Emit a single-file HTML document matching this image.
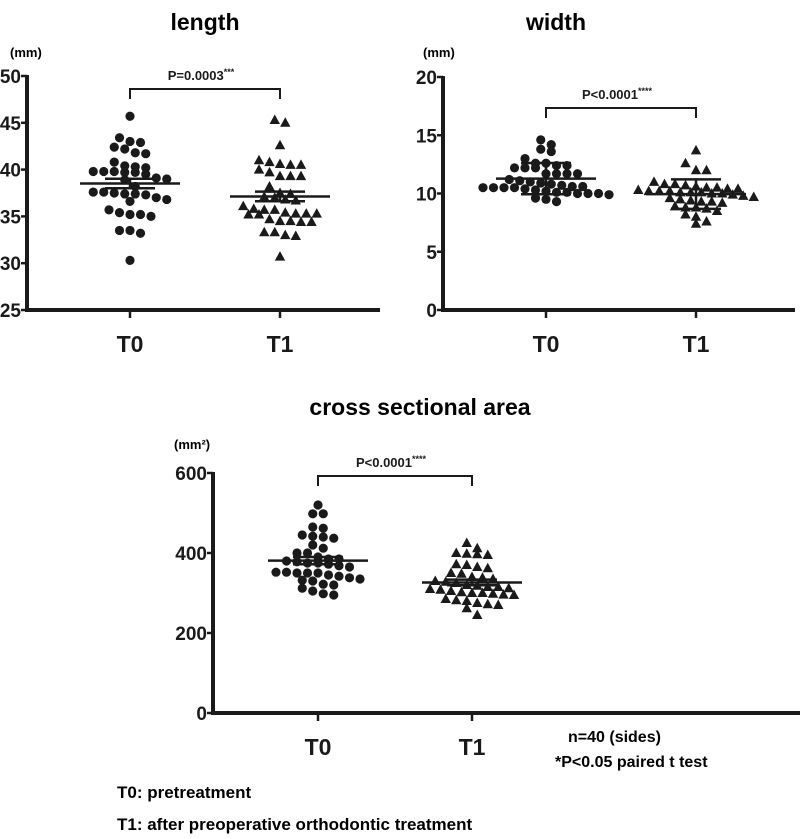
<!DOCTYPE html>
<html><head><meta charset="utf-8"><style>
body{margin:0;background:#fff;width:800px;height:834px;overflow:hidden}
svg{font-family:"Liberation Sans",sans-serif;font-weight:bold}
</style></head><body>
<svg id="s" width="800" height="834">
<text x="205" y="30" font-size="23" text-anchor="middle">length</text>
<text x="556" y="30" font-size="23" text-anchor="middle">width</text>
<text x="420" y="415" font-size="23" text-anchor="middle">cross sectional area</text>
<text x="10" y="57" font-size="13">(mm)</text>
<text x="423" y="57" font-size="13">(mm)</text>
<text x="174" y="449" font-size="13">(mm²)</text>
<text x="568" y="742" font-size="16">n=40 (sides)</text>
<text x="555" y="767" font-size="16">*P&lt;0.05 paired t test</text>
<text x="117" y="798" font-size="17">T0: pretreatment</text>
<text x="117" y="830" font-size="17">T1: after preoperative orthodontic treatment</text>
</svg>
<script>
const lenT0=[45.7,43.4,43.0,42.9,42.4,42.2,41.8,41.7,40.8,40.4,40.3,40.2,39.8,39.8,39.7,39.5,39.7,39.8,39.0,38.9,39.1,38.2,37.6,37.5,37.4,37.3,37.4,37.6,36.8,36.6,37.0,35.4,35.2,35.7,35.0,35.2,33.5,33.5,33.2,30.3];
const lenT1=[45.3,45.0,42.6,41.0,40.8,40.6,40.5,40.5,40.0,39.7,39.3,39.3,39.3,38.2,37.5,37.4,37.1,37.0,36.8,36.7,36.1,35.7,35.7,35.8,35.4,35.3,35.3,35.2,35.2,35.3,34.7,34.5,34.4,34.5,34.4,33.3,33.0,32.9,33.3,30.7];
const widT0=[14.6,14.2,13.8,13.6,13.0,12.6,12.6,12.4,12.4,12.2,12.2,12.2,11.7,11.7,11.7,11.7,11.2,11.1,11.0,10.9,10.8,10.7,10.6,10.6,10.5,10.5,10.5,10.5,10.4,10.3,10.2,10.1,10.1,10.0,10.0,10.0,9.9,9.6,9.5,9.3];
const widT1=[13.7,12.6,12.0,12.0,11.0,10.8,10.8,10.7,10.6,10.5,10.5,10.4,10.4,10.3,10.2,10.2,10.2,10.1,10.1,10.1,10.0,10.0,9.9,9.8,9.7,9.6,9.5,9.4,9.3,9.3,9.2,8.9,8.8,8.8,8.7,8.5,8.2,8.0,7.6,7.4];
const areaT0=[520,498,498,465,462,445,442,440,437,420,412,400,400,390,385,385,380,378,375,375,372,368,365,352,352,350,350,350,345,342,338,335,332,330,322,320,312,305,298,295];
const areaT1=[425,412,400,398,397,395,372,370,365,362,350,348,340,338,335,330,328,325,320,318,315,315,312,310,308,305,302,300,300,298,296,295,285,282,280,275,272,270,262,245];
const lenTicks=[25,30,35,40,45,50];
const widTicks=[0,5,10,15,20];
const areaTicks=[0,200,400,600];
const groups=["T0","T1"];
const pLabels=["P=0.0003","P<0.0001","P<0.0001"];
const pStars=["***","****","****"];

const S=document.getElementById('s');const NS='http://www.w3.org/2000/svg';
function mk(t,a,p){const e=document.createElementNS(NS,t);for(const k in a)e.setAttribute(k,a[k]);(p||S).appendChild(e);return e;}
function stats(v){const n=v.length,m=v.reduce((a,b)=>a+b,0)/n;const sd=Math.sqrt(v.reduce((a,b)=>a+(b-m)*(b-m),0)/(n-1));return{m,sd,sem:sd/Math.sqrt(n)};}
function swarm(vals,y,binH,sp){const ys=vals.map(y).sort((a,b)=>a-b);const res=[];let i=0;
 while(i<ys.length){let j=i;while(j<ys.length&&ys[j]-ys[i]<binH)j++;const n=j-i;
  for(let k=0;k<n;k++)res.push([(k-(n-1)/2)*sp,ys[i+k]]);i=j;}
 return res;}
function chart(c,idx){
 const g=mk('g',{});
 const y=v=>c.y0+(v-c.min)/(c.max-c.min)*(c.y1-c.y0);
 mk('line',{x1:c.ax,y1:c.y1-1,x2:c.ax,y2:c.y0+2,stroke:'#1a1a1a','stroke-width':4},g);
 mk('line',{x1:c.ax-2,y1:c.y0,x2:c.xe,y2:c.y0,stroke:'#1a1a1a','stroke-width':4},g);
 c.ticks.forEach(t=>{mk('line',{x1:c.ax-6,y1:y(t),x2:c.ax,y2:y(t),stroke:'#1a1a1a','stroke-width':2.5},g);
  const tx=mk('text',{x:c.ax-6,y:y(t)+7,'font-size':19,'text-anchor':'end',fill:'#1a1a1a'},g);tx.textContent=t;});
 const data=[c.a,c.b];
 c.gx.forEach((gx,gi)=>{
  mk('line',{x1:gx,y1:c.y0,x2:gx,y2:c.y0+8,stroke:'#1a1a1a','stroke-width':2.5},g);
  const tl=mk('text',{x:gx,y:c.y0+42,'font-size':23,'text-anchor':'middle',fill:'#1a1a1a'},g);tl.textContent=groups[gi];
  const sw=swarm(data[gi],y,c.binH,10.5);
  sw.forEach(p=>{let e;if(gi==0)e=mk('circle',{cx:gx+p[0],cy:p[1],r:4.6,fill:'#1a1a1a'},g);
   else{const X=gx+p[0],Y=p[1];e=mk('polygon',{points:`${X},${Y-5.5} ${X-5.2},${Y+4} ${X+5.2},${Y+4}`,fill:'#1a1a1a'},g);}
   });
  const st=stats(data[gi]);const e=c.sd?st.sd:st.sem;const hw=c.meanW,cw=c.capW;
  mk('line',{x1:gx-hw,y1:y(st.m),x2:gx+hw,y2:y(st.m),stroke:'#1a1a1a','stroke-width':2.5},g);
  mk('line',{x1:gx,y1:y(st.m+e),x2:gx,y2:y(st.m-e),stroke:'#1a1a1a','stroke-width':2.5},g);
  mk('line',{x1:gx-cw,y1:y(st.m+e),x2:gx+cw,y2:y(st.m+e),stroke:'#1a1a1a','stroke-width':2.5},g);
  mk('line',{x1:gx-cw,y1:y(st.m-e),x2:gx+cw,y2:y(st.m-e),stroke:'#1a1a1a','stroke-width':2.5},g);
 });
 const by=c.by;
 mk('path',{d:`M${c.gx[0]},${by+10}V${by}H${c.gx[1]}V${by+10}`,fill:'none',stroke:'#1a1a1a','stroke-width':2},g);
 const pt=mk('text',{x:(c.gx[0]+c.gx[1])/2-4,y:by-9,'font-size':13,'text-anchor':'middle',fill:'#1a1a1a'},g);
 
 pt.textContent=pLabels[idx];const ts=mk('tspan',{'font-size':9,dy:-5},pt);ts.textContent=pStars[idx];
}
chart({name:'length',a:lenT0,b:lenT1,min:25,max:50,y0:310,y1:76,ax:27,xe:380,gx:[130,280],ticks:lenTicks,sd:false,meanW:50,capW:25,by:89,binH:8},0);
chart({name:'width',a:widT0,b:widT1,min:0,max:20,y0:310,y1:77,ax:443,xe:795,gx:[546,696],ticks:widTicks,sd:true,meanW:50,capW:25,by:108,binH:8},1);
chart({name:'area',a:areaT0,b:areaT1,min:0,max:600,y0:713,y1:473,ax:213,xe:800,gx:[318,472],ticks:areaTicks,sd:false,meanW:50,capW:25,by:476,binH:8},2);
</script>
</body></html>
